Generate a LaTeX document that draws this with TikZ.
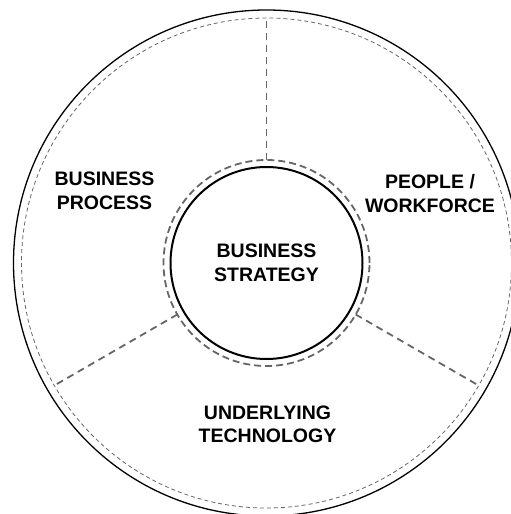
\documentclass[tikz,border=0pt]{standalone}
\usepackage{fontspec}
\setmainfont{Liberation Sans}
\usetikzlibrary{calc}
\definecolor{dashgray}{HTML}{666666}
\begin{document}
\begin{tikzpicture}[x=1pt,y=1pt,
  lbl/.style={font=\bfseries\fontsize{19.5}{23.5}\selectfont, align=center, inner sep=0pt},
  divider/.style={draw=dashgray, line width=1.8pt, dash pattern=on 7pt off 5pt},
  outerdash/.style={draw=dashgray, line width=0.8pt, dash pattern=on 4pt off 3pt},
  innerdash/.style={draw=dashgray, line width=1.8pt, dash pattern=on 7pt off 4pt}]
\useasboundingbox (0,0) rectangle (511,-514);
\coordinate (c) at (266.5,-263);
% outer circles
\draw[black, line width=1.3pt] (c) circle[radius=253];
\draw[outerdash] (c) circle[radius=245];
% inner circles
\draw[innerdash] (c) circle[radius=103];
\node[circle, draw=black, line width=2pt, minimum size=192pt, inner sep=0pt] (core) at (c) {};
% dividers
\foreach \a/\n in {90/t, 210/l, 330/r}{
  \coordinate (i\n) at ($(c)+(\a:103)$);
  \coordinate (o\n) at ($(c)+(\a:245)$);
  \draw[divider] (i\n) -- (o\n);
}
% labels
\node[lbl] (strategy) at (266.5,-263) {BUSINESS\\STRATEGY};
\node[lbl] (process) at (104.5,-191) {BUSINESS\\PROCESS};
\node[lbl] (people) at (430,-193.5) {PEOPLE /\\WORKFORCE};
\node[lbl] (tech) at (267.5,-424.5) {UNDERLYING\\TECHNOLOGY};
\end{tikzpicture}
\end{document}
